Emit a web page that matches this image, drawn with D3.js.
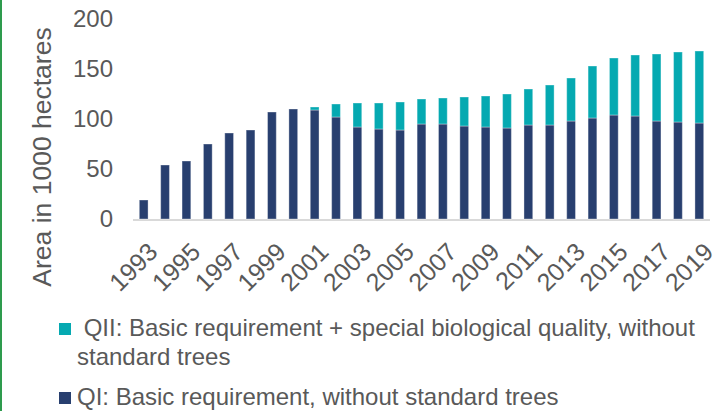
<!DOCTYPE html>
<html>
<head>
<meta charset="utf-8">
<script src="https://cdn.jsdelivr.net/npm/d3@7"></script>
<style>
  body { margin: 0; background: #fff; }
  svg { display: block; font-family: "Liberation Sans", Arial, sans-serif; }
</style>
</head>
<body>
<svg width="720" height="411"></svg>
<script>
// Years on the x axis
var years = [1993, 1994, 1995, 1996, 1997, 1998, 1999, 2000, 2001, 2002, 2003, 2004, 2005,
  2006, 2007, 2008, 2009, 2010, 2011, 2012, 2013, 2014, 2015, 2016, 2017, 2018, 2019];
// QI: basic requirement (1000 ha)
var qi = [19, 54, 58, 75, 86, 89, 107, 110, 109, 102, 92, 90, 89,
  95, 95, 93, 92, 91, 94, 94, 98, 101, 104, 103, 98, 97, 96];
// QII: basic requirement + special biological quality (1000 ha)
var qii = [0, 0, 0, 0, 0, 0, 0, 0, 3, 13, 24, 26, 28,
  25, 26, 29, 31, 34, 36, 40, 43, 52, 57, 61, 67, 70, 72];
var yTicks = [0, 50, 100, 150, 200];
var seriesNames = [' QII: Basic requirement + special biological quality, without|standard trees',
  'QI: Basic requirement, without standard trees'];
var colors = {qi: '#283F6F', qii: '#05A9B1'};

var svg = d3.select('svg');
var textColor = '#595959';

// green strip at the left edge
svg.append('rect')
  .attr('x', 0).attr('y', 0)
  .attr('width', 2).attr('height', 411)
  .attr('fill', '#2E9B4E');

var xScale = d3.scaleBand()
  .domain(years)
  .range([133, 710])
  .paddingInner(0.59)
  .paddingOuter(0.295);

var yScale = d3.scaleLinear()
  .domain([0, 200])
  .range([219, 19]);

var data = years.map(function(y, i) { return {year: y, qi: qi[i], qii: qii[i]}; });
var stacked = d3.stack().keys(['qi', 'qii'])(data);

// baseline
svg.append('line')
  .attr('x1', 133).attr('x2', 710)
  .attr('y1', yScale(0) + 1).attr('y2', yScale(0) + 1)
  .attr('stroke', '#D9D9D9')
  .attr('stroke-width', 2);

var layers = svg.selectAll('g.layer')
  .data(stacked)
  .enter().append('g')
  .attr('class', 'layer')
  .attr('fill', function(d) { return colors[d.key]; });

layers.selectAll('rect')
  .data(function(d) { return d.filter(function(p) { return p[1] - p[0] > 0; }); })
  .enter().append('rect')
  .attr('x', function(d) { return xScale(d.data.year); })
  .attr('y', function(d) { return yScale(d[1]); })
  .attr('width', xScale.bandwidth())
  .attr('height', function(d) { return yScale(d[0]) - yScale(d[1]); })
  .attr('stroke', 'rgba(255,255,255,0.35)')
  .attr('stroke-width', 1);

// y axis (labels only)
var yAxis = svg.append('g')
  .attr('transform', 'translate(113,0)')
  .call(d3.axisLeft(yScale).tickValues(yTicks).tickSize(0).tickPadding(0));
yAxis.select('.domain').remove();
yAxis.selectAll('text')
  .attr('fill', textColor)
  .style('font-size', '24px')
  .style('font-family', '"Liberation Sans", Arial, sans-serif');

// x axis (every other year, rotated)
var xAxis = svg.append('g')
  .attr('transform', 'translate(0,' + yScale(0) + ')')
  .call(d3.axisBottom(xScale)
    .tickValues(years.filter(function(y) { return y % 2 === 1; }))
    .tickSize(0));
xAxis.select('.domain').remove();
xAxis.selectAll('text')
  .attr('fill', textColor)
  .style('font-size', '25px')
  .style('font-family', '"Liberation Sans", Arial, sans-serif')
  .attr('text-anchor', 'end')
  .attr('dy', null)
  .attr('y', null)
  .attr('transform', 'translate(15.5,34.5) rotate(-45)');

// y axis title
svg.append('text')
  .attr('transform', 'translate(51,157) rotate(-90)')
  .attr('text-anchor', 'middle')
  .attr('fill', textColor)
  .style('font-size', '26.5px')
  .text('Area in 1000 hectares');

// legend
var legend = svg.append('g');
var legendRows = [
  {key: 'qii', sq: 323, lines: seriesNames[0].split('|'), base: 336},
  {key: 'qi', sq: 392, lines: seriesNames[1].split('|'), base: 405}
];
legendRows.forEach(function(r) {
  legend.append('rect')
    .attr('x', 59).attr('y', r.sq)
    .attr('width', 12).attr('height', 12)
    .attr('fill', colors[r.key]);
  r.lines.forEach(function(line, j) {
    legend.append('text')
      .attr('x', 77)
      .attr('y', r.base + j * 29)
      .attr('fill', textColor)
      .style('font-size', '24px')
      .style('white-space', 'pre')
      .text(line);
  });
});
</script>
</body>
</html>
